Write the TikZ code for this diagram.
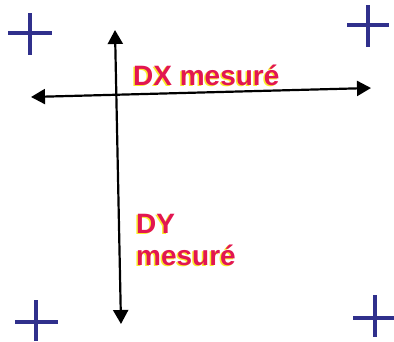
\documentclass[tikz,border=0pt]{standalone}
\usepackage{fontspec}
\setmainfont{Liberation Sans}
\usetikzlibrary{arrows.meta}
\definecolor{crossblue}{RGB}{48,48,140}
\definecolor{labelred}{RGB}{226,22,82}
\definecolor{shadowyellow}{RGB}{250,235,40}
\tikzset{
  crossline/.style={line width=3.5pt, crossblue},
  measure/.style={line width=2.2pt, black, {Triangle[length=14pt,width=15pt]}-{Triangle[length=14pt,width=15pt]}},
  lbl/.style={font=\fontsize{28}{32}\selectfont\bfseries, text=labelred, inner sep=0pt, anchor=base west},
  lblshadow/.style={font=\fontsize{28}{32}\selectfont\bfseries, text=shadowyellow, inner sep=0pt, anchor=base west},
}
\begin{document}
\begin{tikzpicture}[x=1pt,y=-1pt]
\useasboundingbox (0,0) rectangle (394,341);
\fill[white] (0,0) rectangle (394,341);
% crosses
\draw[crossline] (8,33) -- (52,33) (30,13) -- (30,55);
\draw[crossline] (347,25) -- (389,25) (368,5) -- (368,47);
\draw[crossline] (15,322) -- (58,322) (36,300) -- (36,341);
\draw[crossline] (353,318) -- (394,318) (375,295) -- (375,337);
% arrows
\coordinate (vtop) at (115,30);
\coordinate (vbot) at (121,324);
\coordinate (hleft) at (31,97);
\coordinate (hright) at (371,88);
\draw[measure] (vtop) -- (vbot);
\draw[measure] (hleft) -- (hright);
% labels
\node[lblshadow] (dxs) at (131.5,86) {DX mesuré};
\node[lbl] (dx) at (133,85) {DX mesuré};
\node[lblshadow] (dy1s) at (134.5,234) {DY};
\node[lbl] (dy1) at (136,233) {DY};
\node[lblshadow] (dy2s) at (134.5,266) {mesuré};
\node[lbl] (dy2) at (136,265) {mesuré};
\end{tikzpicture}
\end{document}
